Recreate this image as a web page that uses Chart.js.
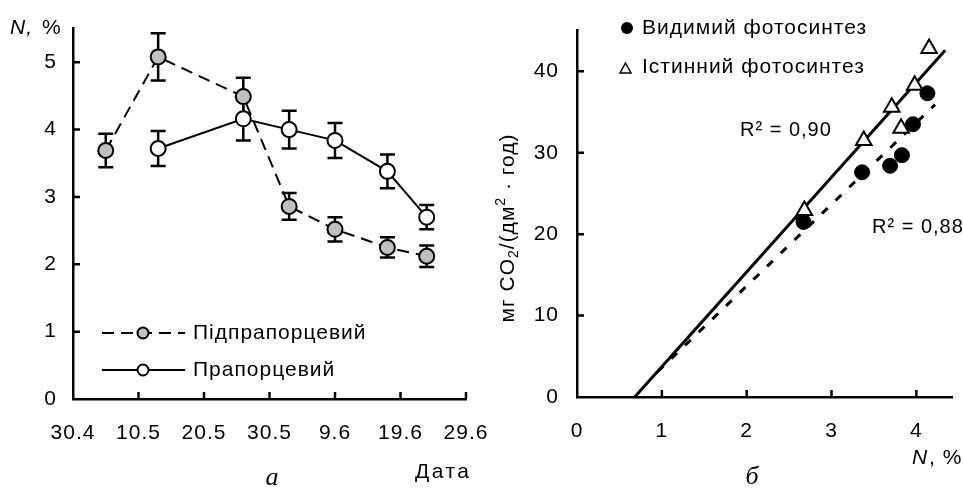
<!DOCTYPE html>
<html><head><meta charset="utf-8">
<script src="https://cdn.jsdelivr.net/npm/chart.js@4.4.1/dist/chart.umd.min.js"></script>
<style>
html,body{margin:0;padding:0;background:#fff;}
#wrap{position:relative;width:963px;height:492px;overflow:hidden;}
canvas{position:absolute;left:0;top:0;}
</style></head><body>
<div id="wrap"><canvas id="a" width="963" height="492"></canvas><canvas id="b" width="963" height="492"></canvas></div>
<script>
// ---- Panel a: N, % by date ----
const dateTickDays = [0, 10, 20, 30, 40, 50, 60];
const dateTickLabels = ['30.4', '10.5', '20.5', '30.5', '9.6', '19.6', '29.6'];
const nTicks = [0, 1, 2, 3, 4, 5];
const subDays = [5, 13, 26, 33, 40, 48, 54];
const subN = [3.69, 5.08, 4.49, 2.86, 2.52, 2.25, 2.12];
const subErr = [0.25, 0.35, 0.28, 0.20, 0.18, 0.15, 0.16];
const flagDays = [13, 26, 33, 40, 48, 54];
const flagN = [3.72, 4.16, 4.00, 3.84, 3.38, 2.70];
const flagErr = [0.26, 0.32, 0.28, 0.26, 0.25, 0.18];
const seriesNamesA = ['Підпрапорцевий', 'Прапорцевий'];

// ---- Panel б: CO2 vs N ----
const nPctTicks = [0, 1, 2, 3, 4];
const co2Ticks = [0, 10, 20, 30, 40];
const apparentN = [2.67, 3.36, 3.69, 3.83, 3.96, 4.13];
const apparentCO2 = [21.5, 27.6, 28.4, 29.7, 33.5, 37.3];
const trueN = [2.68, 3.38, 3.71, 3.82, 3.98, 4.15];
const trueCO2 = [22.9, 31.5, 35.6, 33.0, 38.3, 42.8];
const trueFitN = [0.68, 4.34];
const trueFitCO2 = [0, 42.6];
const apparentFitN = [0.95, 4.22];
const apparentFitCO2 = [3.1, 35.9];
const seriesNamesB = ['Видимий фотосинтез', 'Істинний фотосинтез'];
const r2Labels = ['R² = 0,90', 'R² = 0,88'];

const FONT = '"Liberation Sans", Arial, sans-serif';
const SERIF = '"Liberation Serif", "Times New Roman", serif';
Chart.defaults.font.family = FONT;
Chart.defaults.color = '#000';

const pts = (xs, ys) => xs.map((x, i) => ({x, y: ys[i]}));

// slightly wider letter spacing, as in the reference
const spacing = {
  id: 'spacing',
  beforeUpdate(chart) { chart.ctx.letterSpacing = '1px'; },
  beforeDraw(chart) { chart.ctx.letterSpacing = '1px'; }
};

// inward tick marks
const inwardTicks = {
  id: 'inwardTicks',
  afterDraw(chart) {
    const ctx = chart.ctx, {x, y} = chart.scales;
    ctx.save();
    ctx.strokeStyle = '#000'; ctx.lineWidth = 2.5;
    ctx.beginPath();
    x.ticks.forEach(t => { const p = x.getPixelForValue(t.value); if (t.value === x.min) return; ctx.moveTo(p, y.bottom); ctx.lineTo(p, y.bottom - 7); });
    y.ticks.forEach(t => { const p = y.getPixelForValue(t.value); if (t.value === y.min) return; ctx.moveTo(x.left, p); ctx.lineTo(x.left + 7, p); });
    ctx.stroke();
    ctx.restore();
  }
};

// error bars
const errorBars = {
  id: 'errorBars',
  beforeDatasetsDraw(chart) {
    const ctx = chart.ctx, {x, y} = chart.scales;
    ctx.save();
    ctx.strokeStyle = '#000'; ctx.lineWidth = 2.5;
    chart.data.datasets.forEach(ds => {
      if (!ds.errors) return;
      ds.data.forEach((p, i) => {
        const px = x.getPixelForValue(p.x);
        const top = y.getPixelForValue(p.y + ds.errors[i]);
        const bot = y.getPixelForValue(p.y - ds.errors[i]);
        ctx.beginPath();
        ctx.moveTo(px, top); ctx.lineTo(px, bot);
        ctx.moveTo(px - 7.5, top); ctx.lineTo(px + 7.5, top);
        ctx.moveTo(px - 7.5, bot); ctx.lineTo(px + 7.5, bot);
        ctx.stroke();
      });
    });
    ctx.restore();
  }
};

function txt(ctx, s, x, y, font, align, ls) {
  ctx.font = font; ctx.textAlign = align || 'left'; ctx.textBaseline = 'middle'; ctx.fillStyle = '#000';
  ctx.letterSpacing = ls || '1px';
  ctx.fillText(s, x, y);
}

const labelsA = {
  id: 'labelsA',
  afterDraw(chart) {
    const ctx = chart.ctx;
    ctx.save();
    txt(ctx, 'N,', 10, 28, 'italic 21px ' + FONT);
    txt(ctx, '%', 42, 28, '21px ' + FONT);
    txt(ctx, 'Дата', 415, 472, '21px ' + FONT, 'left', '2.5px');
    txt(ctx, 'а', 272, 478, 'italic 26px ' + SERIF, 'center', '0px');
    // legend
    const ds = chart.data.datasets;
    [[333, ds[0]], [370, ds[1]]].forEach(([ly, d]) => {
      ctx.strokeStyle = '#000'; ctx.lineWidth = 2;
      ctx.setLineDash(d.borderDash || []);
      ctx.beginPath(); ctx.moveTo(102, ly); ctx.lineTo(185, ly); ctx.stroke();
      ctx.setLineDash([]);
      ctx.beginPath(); ctx.arc(143, ly, 5.5, 0, Math.PI * 2);
      ctx.fillStyle = d.pointBackgroundColor; ctx.fill(); ctx.lineWidth = 2; ctx.stroke();
      txt(ctx, d.label, 193, ly, '21px ' + FONT);
    });
    ctx.restore();
  }
};

new Chart(document.getElementById('a'), {
  type: 'line',
  data: {datasets: [
    {label: seriesNamesA[0], data: pts(subDays, subN), errors: subErr, borderColor: '#000', borderWidth: 2, borderDash: [12, 7],
     pointRadius: 7.5, pointBackgroundColor: '#c0c0c0', pointBorderColor: '#000', pointBorderWidth: 2, tension: 0, fill: false},
    {label: seriesNamesA[1], data: pts(flagDays, flagN), errors: flagErr, borderColor: '#000', borderWidth: 2,
     pointRadius: 7.5, pointBackgroundColor: '#ffffff', pointBorderColor: '#000', pointBorderWidth: 2, tension: 0, fill: false}
  ]},
  options: {
    responsive: false, animation: false, events: [],
    layout: {padding: {left: 0, top: 28, right: 497, bottom: 0}},
    plugins: {legend: {display: false}, tooltip: {enabled: false}},
    scales: {
      x: {type: 'linear', min: 0, max: 60,
          afterBuildTicks: s => { s.ticks = dateTickDays.map(v => ({value: v})); },
          afterFit: s => { s.height = 93; },
          grid: {display: false, drawTicks: false}, border: {display: true, color: '#000', width: 2.5},
          ticks: {font: {size: 21}, color: '#000', padding: 22, maxRotation: 0, autoSkip: false,
                  callback: (v, i) => dateTickLabels[i]}},
      y: {type: 'linear', min: 0, max: 5.5,
          afterBuildTicks: s => { s.ticks = nTicks.map(v => ({value: v})); },
          afterFit: s => { s.width = 73; },
          grid: {display: false, drawTicks: false}, border: {display: true, color: '#000', width: 2.5},
          ticks: {font: {size: 21}, color: '#000', padding: 16}}
    }
  },
  plugins: [spacing, errorBars, inwardTicks, labelsA]
});

const labelsB = {
  id: 'labelsB',
  afterDraw(chart) {
    const ctx = chart.ctx;
    ctx.save();
    // legend
    ctx.fillStyle = '#000';
    ctx.beginPath(); ctx.arc(627, 28, 6, 0, Math.PI * 2); ctx.fill();
    txt(ctx, seriesNamesB[0], 642, 28, '21px ' + FONT);
    ctx.strokeStyle = '#000'; ctx.lineWidth = 1.5;
    ctx.beginPath(); ctx.moveTo(620, 73); ctx.lineTo(631, 73); ctx.lineTo(625.5, 63); ctx.closePath(); ctx.stroke();
    txt(ctx, seriesNamesB[1], 642, 67, '21px ' + FONT);
    txt(ctx, r2Labels[0], 740, 130, '20px ' + FONT);
    txt(ctx, r2Labels[1], 872, 227, '20px ' + FONT);
    // x title
    txt(ctx, 'N', 912, 458, 'italic 21px ' + FONT);
    txt(ctx, ', %', 929, 458, '21px ' + FONT);
    txt(ctx, 'б', 752, 477, 'italic 26px ' + SERIF, 'center', '0px');
    // y title with sub/superscripts
    ctx.translate(508, 228); ctx.rotate(-Math.PI / 2);
    const parts = [['мг CO', 21, 0], ['2', 14, 6], ['/(дм', 21, 0], ['2', 14, -7], [' · год)', 21, 0]];
    let w = 0;
    ctx.letterSpacing = '1px';
    parts.forEach(p => { ctx.font = p[1] + 'px ' + FONT; w += ctx.measureText(p[0]).width; });
    let cx = -w / 2;
    parts.forEach(p => { txt(ctx, p[0], cx, p[2], p[1] + 'px ' + FONT); cx += ctx.measureText(p[0]).width; });
    ctx.restore();
  }
};

new Chart(document.getElementById('b'), {
  type: 'scatter',
  data: {datasets: [
    {label: seriesNamesB[0], data: pts(apparentN, apparentCO2), pointStyle: 'circle', pointRadius: 7.5,
     pointBackgroundColor: '#000', pointBorderColor: '#000', pointBorderWidth: 1, showLine: false},
    {label: seriesNamesB[1], data: pts(trueN, trueCO2), pointStyle: 'triangle', pointRadius: 9,
     pointBackgroundColor: '#fff', pointBorderColor: '#000', pointBorderWidth: 2, showLine: false},
    {label: 'fit true', data: pts(trueFitN, trueFitCO2), showLine: true, borderColor: '#000', borderWidth: 3, pointRadius: 0},
    {label: 'fit apparent', data: pts(apparentFitN, apparentFitCO2), showLine: true, borderColor: '#000', borderWidth: 3, borderDash: [8, 11], pointRadius: 0}
  ]},
  options: {
    responsive: false, animation: false, events: [],
    layout: {padding: {left: 0, top: 30, right: 3, bottom: 0}},
    plugins: {legend: {display: false}, tooltip: {enabled: false}},
    scales: {
      x: {type: 'linear', min: 0, max: 4.42,
          afterBuildTicks: s => { s.ticks = nPctTicks.map(v => ({value: v})); },
          afterFit: s => { s.height = 95; },
          grid: {display: false, drawTicks: false}, border: {display: true, color: '#000', width: 2.5},
          ticks: {font: {size: 21}, color: '#000', padding: 22, maxRotation: 0, autoSkip: false}},
      y: {type: 'linear', min: 0, max: 45,
          afterBuildTicks: s => { s.ticks = co2Ticks.map(v => ({value: v})); },
          afterFit: s => { s.width = 577; },
          grid: {display: false, drawTicks: false}, border: {display: true, color: '#000', width: 2.5},
          ticks: {font: {size: 21}, color: '#000', padding: 18}}
    }
  },
  plugins: [spacing, inwardTicks, labelsB]
});
</script>
</body></html>
